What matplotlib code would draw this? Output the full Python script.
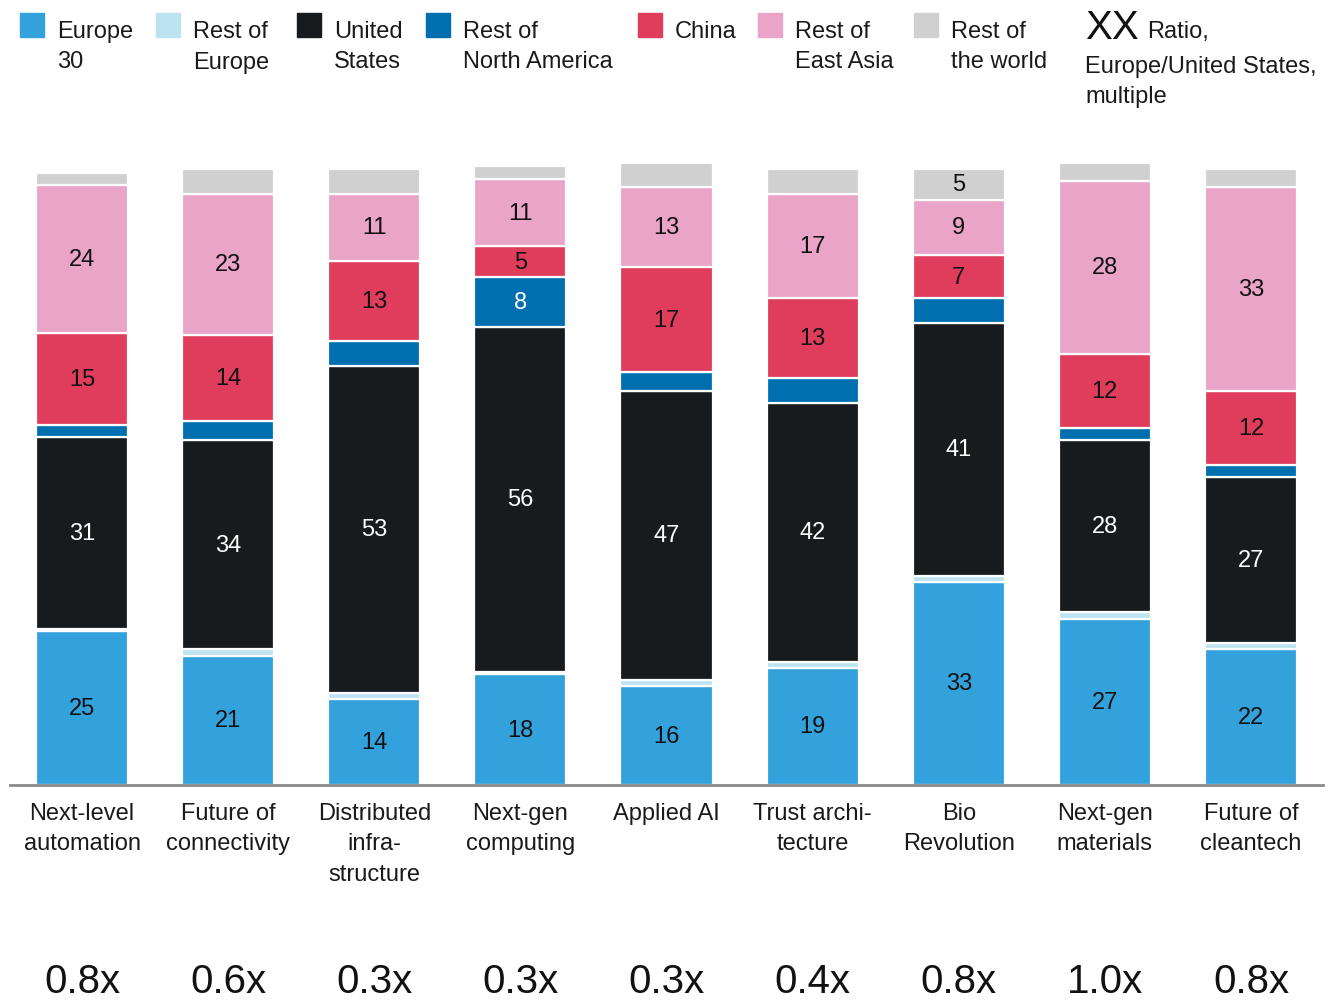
import matplotlib
matplotlib.use("Agg")
import matplotlib.pyplot as plt
import matplotlib.transforms as mtransforms
from matplotlib.patches import Rectangle
import numpy as np

plt.rcParams['font.family'] = ['Liberation Sans', 'DejaVu Sans']

categories = ["Next-level\nautomation", "Future of\nconnectivity", "Distributed\ninfra-\nstructure",
              "Next-gen\ncomputing", "Applied AI", "Trust archi-\ntecture", "Bio\nRevolution",
              "Next-gen\nmaterials", "Future of\ncleantech"]

europe30 = [25, 21, 14, 18, 16, 19, 33, 27, 22]
rest_europe = [0.4, 1, 1, 0.4, 1, 1, 1, 1, 1]
united_states = [31, 34, 53, 56, 47, 42, 41, 28, 27]
rest_n_america = [2, 3, 4, 8, 3, 4, 4, 2, 2]
china = [15, 14, 13, 5, 17, 13, 7, 12, 12]
rest_east_asia = [24, 23, 11, 11, 13, 17, 9, 28, 33]
rest_world = [2, 4, 4, 2, 4, 4, 5, 3, 3]

ratios = ["0.8x", "0.6x", "0.3x", "0.3x", "0.3x", "0.4x", "0.8x", "1.0x", "0.8x"]

# which segments get a printed number
show_value = {
    "Europe 30": [True] * 9,
    "Rest of Europe": [False] * 9,
    "United States": [True] * 9,
    "Rest of North America": [False, False, False, True, False, False, False, False, False],
    "China": [True] * 9,
    "Rest of East Asia": [True] * 9,
    "Rest of the world": [False, False, False, False, False, False, True, False, False],
}

series = [
    ("Europe 30", "Europe\n30", europe30, "#32A1DC", "#111111"),
    ("Rest of Europe", "Rest of\nEurope", rest_europe, "#BDE3F1", "#111111"),
    ("United States", "United\nStates", united_states, "#181B1E", "white"),
    ("Rest of North America", "Rest of\nNorth America", rest_n_america, "#006FAF", "white"),
    ("China", "China", china, "#E03D5C", "#111111"),
    ("Rest of East Asia", "Rest of\nEast Asia", rest_east_asia, "#E9A4C8", "#111111"),
    ("Rest of the world", "Rest of\nthe world", rest_world, "#D0D0D0", "#111111"),
]

W, H = 1332, 1003
fig = plt.figure(figsize=(W / 100, H / 100), dpi=100)
ax = fig.add_axes([10 / W, 1 - 786 / H, 1313 / W, (786 - 160) / H])

x = np.arange(len(categories))
bottom = np.zeros(len(categories))
for name, leg, vals, col, tcol in series:
    vals = np.array(vals, dtype=float)
    ax.bar(x, vals, bottom=bottom, width=0.63, color=col, edgecolor="white", linewidth=1.6)
    for i, v in enumerate(vals):
        if show_value[name][i]:
            ax.text(x[i], bottom[i] + v / 2, "%d" % v, ha="center", va="center",
                    fontsize=17, color=tcol)
    bottom += vals

ax.set_xlim(-0.493, 8.493)
ax.set_ylim(0, 101.6)
for s in ["top", "right", "left"]:
    ax.spines[s].set_visible(False)
ax.spines["bottom"].set_color("#8a8a8a")
ax.spines["bottom"].set_linewidth(2)
ax.set_yticks([])
ax.set_xticks(x)
ax.set_xticklabels(categories, fontsize=17, color="#1a1a1a", linespacing=1.5, va="top")
ax.tick_params(axis="x", length=0, pad=12)

trans = mtransforms.blended_transform_factory(ax.transData, ax.transAxes)
for i, r in enumerate(ratios):
    ax.text(x[i], -0.313, r, transform=trans, ha="center", va="center",
            fontsize=29, color="#111111")

# legend across the top
leg_x = [20, 156, 297, 426, 638, 758, 914]
for (name, leg, vals, col, tcol), lx in zip(series, leg_x):
    fig.patches.append(Rectangle((lx / W, 1 - 38 / H), 24 / W, 24 / H,
                                 transform=fig.transFigure, color=col))
    fig.text((lx + 37) / W, 1 - 21 / H, leg, ha="left", va="top", fontsize=17,
             color="#1a1a1a", linespacing=1.5)

fig.text(1085 / W, 1 - 9 / H, "XX", ha="left", va="top", fontsize=29, color="#111111")
fig.text(1147 / W, 1 - 21 / H, "Ratio,", ha="left", va="top", fontsize=17, color="#1a1a1a")
fig.text(1085 / W, 1 - 56 / H, "Europe/United States,\nmultiple", ha="left", va="top",
         fontsize=17, color="#1a1a1a", linespacing=1.5)

fig.savefig("out.png", dpi=100, facecolor="white")
